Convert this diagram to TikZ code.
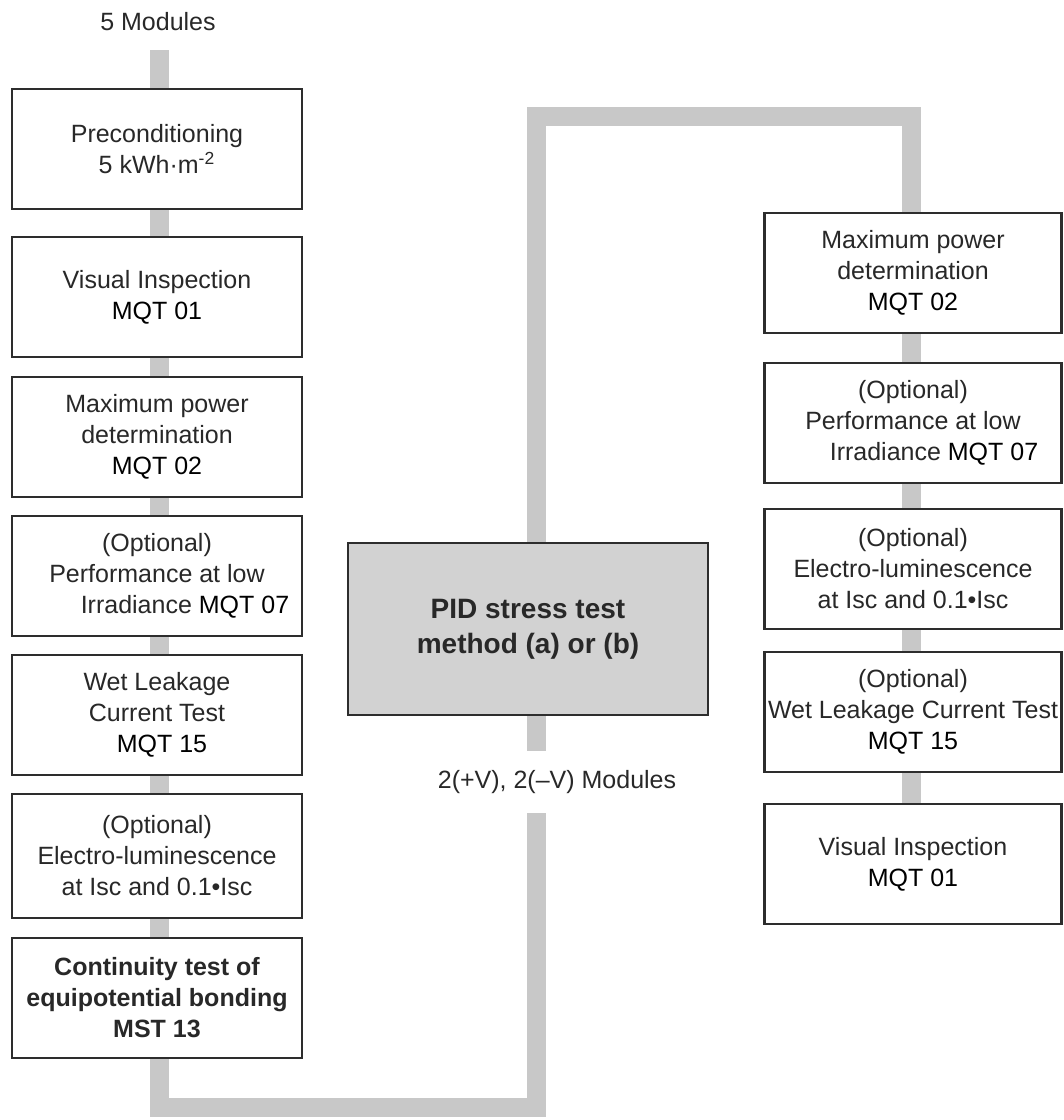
\documentclass[tikz,border=0pt]{standalone}
\usepackage{fontspec}
\setmainfont{Liberation Sans}
\usepackage{tikz}
\usetikzlibrary{backgrounds}
\definecolor{flowgrey}{RGB}{200,200,200}
\definecolor{pidgrey}{RGB}{210,210,210}
\definecolor{boxline}{RGB}{45,45,45}
\definecolor{txtgrey}{RGB}{40,40,40}
\newcommand{\code}[1]{{\color{black}#1}} % test number
\tikzset{
	stepbox/.style={draw=boxline, line width=1.2pt, fill=white, align=center, inner sep=0pt,
		text=txtgrey, font=\fontsize{12.5}{15.5}\selectfont},
	leftbox/.style={stepbox, minimum width=145pt, minimum height=60pt},
	rightbox/.style={stepbox, minimum width=148.5pt, minimum height=60pt},
	flow/.style={flowgrey, line width=9.5pt, line join=miter},
	caption/.style={text=txtgrey, font=\fontsize{12.5}{15.5}\selectfont}
}

\begin{document}
\begin{tikzpicture}[x=0.5pt, y=-0.5pt]

	\useasboundingbox (0,0) rectangle (1064,1120);

	\node[caption] (mods) at (158,22) {5 Modules};

	% left column
	\node[leftbox] (pre)  at (157,149) {Preconditioning\\5 kWh·m\textsuperscript{-2}};
	\node[leftbox] (lvis) at (157,297) {Visual Inspection\\\code{MQT 01}};
	\node[leftbox] (lmax) at (157,437) {Maximum power\\determination\\\code{MQT 02}};
	\node[leftbox] (lirr) at (157,576) {(Optional)\\Performance at low\\\hspace*{28pt}Irradiance \code{MQT 07}};
	\node[leftbox] (lwet) at (157,715) {Wet Leakage\\Current Test\\\hspace*{5pt}\code{MQT 15}};
	\node[leftbox, minimum height=62pt] (lel) at (157,856) {(Optional)\\Electro-luminescence\\at Isc and 0.1•Isc};
	\node[leftbox, font=\fontsize{12.5}{15.5}\selectfont\bfseries] (cont) at (157,998) {Continuity test of\\equipotential bonding\\MST 13};

	% stress test
	\node[stepbox, fill=pidgrey, minimum width=180pt, minimum height=86pt,
		font=\fontsize{14}{17.5}\selectfont\bfseries] (pid) at (528,629) {PID stress test\\method (a) or (b)};
	\node[caption, minimum height=31pt, inner sep=0pt] (split) at (557,782) {2(+V), 2(–V) Modules};

	% right column
	\node[rightbox] (rmax) at (913,273) {Maximum power\\determination\\\code{MQT 02}};
	\node[rightbox] (rirr) at (913,423) {(Optional)\\Performance at low\\\hspace*{21pt}Irradiance \code{MQT 07}};
	\node[rightbox] (rel)  at (913,569) {(Optional)\\Electro-luminescence\\at Isc and 0.1•Isc};
	\node[rightbox] (rwet) at (913,712) {(Optional)\\Wet Leakage Current Test\\\code{MQT 15}};
	\node[rightbox] (rvis) at (913,864) {Visual Inspection\\\code{MQT 01}};

	\coordinate (start) at (159,50);
	\coordinate (c1) at (159,1107);
	\coordinate (c2) at (536,1107);
	\coordinate (c3) at (536,116);
	\coordinate (c4) at (911,116);

	\begin{scope}[on background layer]
		\draw[flow] (start) -- (c1) -- (c2) -- (c2 |- split.south);
		\draw[flow] (c2 |- split.north) -- (c3) -- (c4) -- (c4 |- rvis.north);
	\end{scope}

\end{tikzpicture}
\end{document}
